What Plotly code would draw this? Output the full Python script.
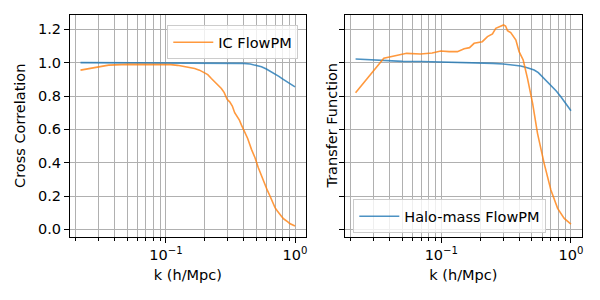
import plotly.graph_objects as go

# ---- data ----
k_cc_halo = [0.0218, 0.05, 0.1, 0.2, 0.3, 0.35, 0.4, 0.45, 0.5, 0.55, 0.6, 0.65, 0.7, 0.75, 0.8, 0.85, 0.9, 0.95, 1.0]
cc_halo = [1.0, 1.0, 1.0, 1.0, 0.999, 0.998, 0.996, 0.992, 0.985, 0.975, 0.962, 0.948, 0.933, 0.918, 0.903, 0.89, 0.877, 0.865, 0.855]

k_cc_ic = [0.0218, 0.036, 0.051, 0.065, 0.08, 0.094, 0.109, 0.123, 0.138, 0.152, 0.167, 0.182, 0.196, 0.211,
           0.225, 0.24, 0.254, 0.269, 0.283, 0.298, 0.312, 0.327, 0.341, 0.356, 0.371, 0.385, 0.40, 0.43, 0.46,
           0.49, 0.52, 0.55, 0.58, 0.61, 0.64, 0.67, 0.70, 0.73, 0.76, 0.79, 0.82, 0.85, 0.88, 0.91, 0.94, 0.97, 1.0]
cc_ic = [0.955, 0.985, 0.99, 0.99, 0.99, 0.99, 0.988, 0.984, 0.978, 0.972, 0.965, 0.955, 0.94, 0.928,
         0.905, 0.885, 0.865, 0.845, 0.82, 0.78, 0.765, 0.74, 0.70, 0.68, 0.655, 0.625, 0.60, 0.545, 0.48,
         0.43, 0.37, 0.32, 0.27, 0.235, 0.2, 0.16, 0.13, 0.11, 0.09, 0.075, 0.062, 0.055, 0.045, 0.035, 0.03, 0.025, 0.02]

k_tf_halo = [0.0218, 0.036, 0.05, 0.07, 0.1, 0.15, 0.2, 0.25, 0.3, 0.35, 0.41, 0.46, 0.52, 0.56, 0.6, 0.65, 0.7,
             0.77, 0.836, 0.9, 0.95, 1.0]
tf_halo = [1.022, 1.012, 1.008, 1.007, 1.004, 1.002, 1.0, 0.996, 0.992, 0.988, 0.98, 0.97, 0.956, 0.94, 0.916,
           0.892, 0.866, 0.83, 0.796, 0.76, 0.735, 0.712]

k_tf_ic = [0.0218, 0.036, 0.054, 0.069, 0.085, 0.099, 0.115, 0.133, 0.15, 0.165, 0.179, 0.207, 0.227, 0.248,
           0.263, 0.285, 0.302, 0.313, 0.324, 0.343, 0.376, 0.398, 0.428, 0.462, 0.506, 0.552, 0.621, 0.70,
           0.789, 0.887, 1.0]
tf_ic = [0.82, 1.026, 1.056, 1.052, 1.058, 1.07, 1.066, 1.066, 1.084, 1.09, 1.116, 1.126, 1.156, 1.172,
         1.206, 1.215, 1.226, 1.22, 1.192, 1.18, 1.136, 1.066, 1.016, 0.906, 0.756, 0.576, 0.396, 0.236,
         0.126, 0.066, 0.032]

y_ticks = [0.0, 0.2, 0.4, 0.6, 0.8, 1.0, 1.2]
y_ticklabels = ["0.0", "0.2", "0.4", "0.6", "0.8", "1.0", "1.2"]
x_ticks = [0.1, 1.0]
x_ticklabels = ["10<sup>−1</sup>", "10<sup>0</sup>"]
x_minor = [0.02, 0.03, 0.04, 0.05, 0.06, 0.07, 0.08, 0.09, 0.2, 0.3, 0.4, 0.5, 0.6, 0.7, 0.8, 0.9]

BLUE = "rgba(31,119,180,0.8)"
ORANGE = "rgba(255,127,14,0.8)"
GRID = "#b0b0b0"
FONT = "DejaVu Sans"
FS = 14.5

fig = go.Figure()
fig.add_trace(go.Scatter(x=k_cc_halo, y=cc_halo, mode="lines", line=dict(color=BLUE, width=1.6),
                         xaxis="x", yaxis="y", showlegend=False))
fig.add_trace(go.Scatter(x=k_cc_ic, y=cc_ic, mode="lines", line=dict(color=ORANGE, width=1.6),
                         xaxis="x", yaxis="y", name="IC FlowPM", legend="legend"))
fig.add_trace(go.Scatter(x=k_tf_halo, y=tf_halo, mode="lines", line=dict(color=BLUE, width=1.6),
                         xaxis="x2", yaxis="y2", name="Halo-mass FlowPM", legend="legend2"))
fig.add_trace(go.Scatter(x=k_tf_ic, y=tf_ic, mode="lines", line=dict(color=ORANGE, width=1.6),
                         xaxis="x2", yaxis="y2", showlegend=False))

xcommon = dict(type="log", range=[-1.743, 0.083], tickmode="array", tickvals=x_ticks, ticktext=x_ticklabels,
               ticks="outside", ticklen=5, tickcolor="black", showline=True, linecolor="black", linewidth=1,
               mirror=True, showgrid=True, gridcolor=GRID, gridwidth=1, zeroline=False, automargin=False,
               tickfont=dict(size=FS, color="black"),
               minor=dict(tickmode="array", tickvals=x_minor, ticks="outside", ticklen=3, tickcolor="black",
                          showgrid=True, gridcolor=GRID, gridwidth=1),
               title=dict(text="k (h/Mpc)", font=dict(size=FS, color="black"), standoff=7))
ycommon = dict(range=[-0.044, 1.286], tickmode="array", tickvals=y_ticks, ticks="outside", ticklen=5,
               tickcolor="black", showline=True, linecolor="black", linewidth=1, mirror=True, showgrid=True,
               gridcolor=GRID, gridwidth=1, zeroline=False, automargin=False, tickfont=dict(size=FS, color="black"))

# the page body has an 8px margin; domains are shifted to compensate
fig.update_layout(
    width=600, height=300, margin=dict(l=0, r=0, t=0, b=0),
    paper_bgcolor="white", plot_bgcolor="white",
    font=dict(family=FONT, size=FS, color="black"),
    xaxis=dict(domain=[0.1033, 0.4962], anchor="y", **xcommon),
    xaxis2=dict(domain=[0.5617, 0.9562], anchor="y2", **xcommon),
    yaxis=dict(domain=[0.2377, 0.9767], anchor="x", ticktext=y_ticklabels, **ycommon),
    yaxis2=dict(domain=[0.2377, 0.9767], anchor="x2", showticklabels=False, **ycommon),
    legend=dict(x=0.4838, xanchor="right", y=0.942, yanchor="top", bgcolor="rgba(255,255,255,0.8)",
                bordercolor="#cccccc", borderwidth=1, itemwidth=40, font=dict(size=FS, color="black")),
    legend2=dict(x=0.5755, xanchor="left", y=0.249, yanchor="bottom", bgcolor="rgba(255,255,255,0.8)",
                 bordercolor="#cccccc", borderwidth=1, itemwidth=40, font=dict(size=FS, color="black")),
    annotations=[
        dict(text="Cross Correlation", xref="paper", yref="paper", x=0.02, y=0.607, textangle=-90,
             showarrow=False, font=dict(size=FS, color="black"), xanchor="center", yanchor="middle"),
        dict(text="Transfer Function", xref="paper", yref="paper", x=0.5395, y=0.607, textangle=-90,
             showarrow=False, font=dict(size=FS, color="black"), xanchor="center", yanchor="middle"),
    ],
)

fig.write_html("out.html")
